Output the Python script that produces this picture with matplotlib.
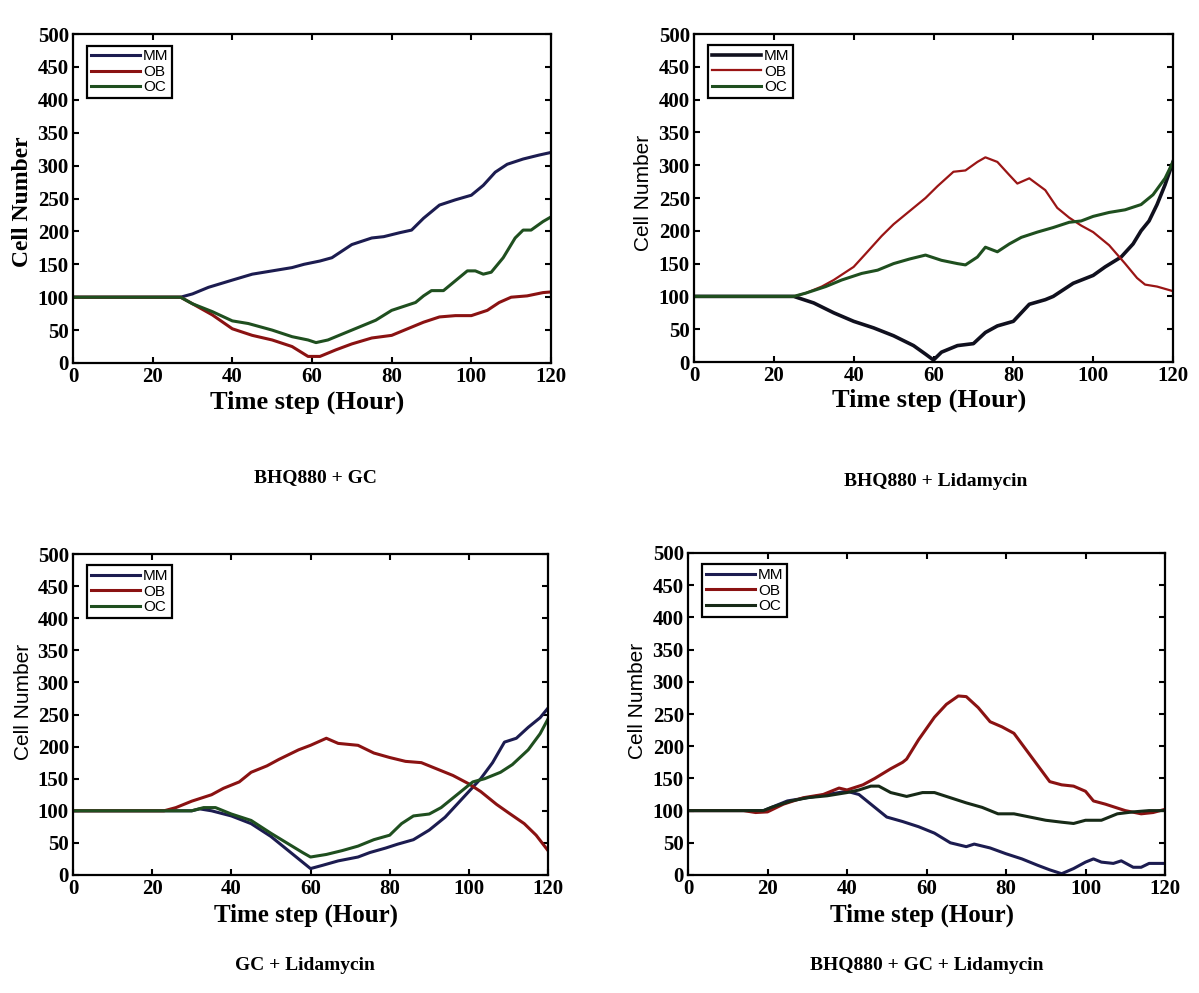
#libraries
import matplotlib
matplotlib.use("Agg")
import matplotlib.pyplot as plt

#hours and cell counts
# panel 1 : BHQ880 + GC
p1_mm_t = [0, 27, 30, 34, 40, 45, 50, 55, 58, 62, 65, 70, 75, 78, 82, 85, 88, 92, 96, 100, 103, 106, 109, 113, 117, 120]
p1_mm_v = [100, 100, 105, 115, 126, 135, 140, 145, 150, 155, 160, 180, 190, 192, 198, 202, 220, 240, 248, 255, 270, 290, 302, 310, 316, 320]
p1_ob_t = [0, 27, 30, 35, 40, 45, 50, 55, 59, 62, 66, 70, 75, 80, 84, 88, 92, 96, 100, 104, 107, 110, 114, 118, 120]
p1_ob_v = [100, 100, 90, 73, 52, 42, 35, 25, 10, 10, 20, 29, 38, 42, 52, 62, 70, 72, 72, 80, 92, 100, 102, 107, 108]
p1_oc_t = [0, 27, 30, 35, 40, 44, 50, 55, 59, 61, 64, 68, 72, 76, 80, 84, 86, 88, 90, 93, 96, 99, 101, 103, 105, 108, 111, 113, 115, 118, 120]
p1_oc_v = [100, 100, 90, 78, 64, 60, 50, 40, 35, 31, 35, 45, 55, 65, 80, 88, 92, 102, 110, 110, 125, 140, 140, 135, 138, 160, 190, 202, 202, 215, 222]

# panel 2 : BHQ880 + Lidamycin
p2_mm_t = [0, 25, 30, 35, 40, 45, 50, 55, 58, 60, 62, 66, 70, 73, 76, 80, 84, 88, 90, 95, 100, 103, 107, 110, 112, 114, 116, 118, 120]
p2_mm_v = [100, 100, 90, 75, 62, 52, 40, 25, 12, 3, 15, 25, 28, 45, 55, 62, 88, 95, 100, 120, 132, 145, 160, 180, 200, 215, 240, 270, 305]
p2_ob_t = [0, 25, 28, 32, 35, 40, 43, 47, 50, 54, 58, 61, 65, 68, 71, 73, 76, 79, 81, 84, 88, 91, 94, 97, 100, 104, 108, 111, 113, 116, 120]
p2_ob_v = [100, 100, 105, 115, 125, 145, 165, 192, 210, 230, 250, 268, 290, 292, 305, 312, 305, 285, 272, 280, 262, 235, 220, 208, 198, 178, 150, 128, 118, 115, 108]
p2_oc_t = [0, 25, 28, 33, 37, 42, 46, 50, 54, 58, 62, 66, 68, 71, 73, 76, 79, 82, 86, 90, 94, 97, 100, 104, 108, 112, 115, 118, 120]
p2_oc_v = [100, 100, 105, 115, 125, 135, 140, 150, 157, 163, 155, 150, 148, 160, 175, 168, 180, 190, 198, 205, 213, 215, 222, 228, 232, 240, 255, 280, 305]

# panel 3 : GC + Lidamycin
p3_mm_t = [0, 30, 32, 35, 40, 45, 50, 54, 58, 60, 63, 67, 72, 75, 79, 82, 86, 90, 94, 97, 100, 103, 106, 109, 112, 115, 118, 120]
p3_mm_v = [100, 100, 103, 100, 92, 80, 60, 40, 20, 10, 15, 22, 28, 35, 42, 48, 55, 70, 90, 110, 130, 150, 175, 207, 213, 230, 245, 260]
p3_ob_t = [0, 23, 26, 30, 35, 38, 42, 45, 49, 52, 57, 60, 64, 67, 72, 76, 80, 84, 88, 92, 96, 100, 103, 107, 110, 114, 117, 120]
p3_ob_v = [100, 100, 105, 115, 125, 135, 145, 160, 170, 180, 195, 202, 213, 205, 202, 190, 183, 177, 175, 165, 155, 142, 130, 110, 97, 80, 62, 38]
p3_oc_t = [0, 30, 33, 36, 40, 45, 50, 54, 58, 60, 64, 68, 72, 76, 80, 83, 86, 90, 93, 96, 99, 101, 104, 108, 111, 115, 118, 120]
p3_oc_v = [100, 100, 105, 105, 95, 85, 65, 50, 35, 28, 32, 38, 45, 55, 62, 80, 92, 95, 105, 120, 135, 145, 150, 160, 172, 195, 220, 243]

# panel 4 : BHQ880 + GC + Lidamycin
p4_mm_t = [0, 19, 21, 25, 30, 35, 40, 43, 46, 50, 54, 58, 62, 66, 70, 72, 76, 80, 84, 88, 91, 94, 97, 100, 102, 104, 107, 109, 112, 114, 116, 120]
p4_mm_v = [100, 100, 105, 115, 120, 125, 130, 125, 110, 90, 83, 75, 65, 50, 44, 48, 42, 33, 25, 15, 8, 2, 10, 20, 25, 20, 18, 22, 12, 12, 18, 18]
p4_ob_t = [0, 14, 17, 20, 24, 29, 34, 38, 40, 44, 47, 51, 54, 55, 58, 62, 65, 68, 70, 73, 76, 79, 82, 85, 88, 91, 94, 97, 100, 102, 105, 110, 114, 117, 120]
p4_ob_v = [100, 100, 97, 98, 110, 120, 125, 135, 132, 140, 150, 165, 175, 180, 210, 245, 265, 278, 277, 260, 238, 230, 220, 195, 170, 145, 140, 138, 130, 115, 110, 100, 95, 97, 102]
p4_oc_t = [0, 19, 21, 26, 30, 35, 40, 43, 46, 48, 51, 55, 59, 62, 66, 70, 74, 78, 82, 86, 90, 94, 97, 100, 104, 108, 112, 116, 120]
p4_oc_v = [100, 100, 105, 115, 120, 123, 128, 132, 138, 138, 128, 122, 128, 128, 120, 112, 105, 95, 95, 90, 85, 82, 80, 85, 85, 95, 98, 100, 100]

labels = ["MM", "OB", "OC"]
captions = ["BHQ880 + GC", "BHQ880 + Lidamycin", "GC + Lidamycin", "BHQ880 + GC + Lidamycin"]

#fonts
serif = "Liberation Serif"
sans = "Liberation Sans"

W, H = 1199, 993
fig = plt.figure(figsize=(W / 100, H / 100), dpi=100)
fig.patch.set_facecolor("white")

def px_axes(left, right, top, bottom):
    # axes from pixel edges
    return fig.add_axes([left / W, (H - bottom) / H, (right - left) / W, (bottom - top) / H])

def panel(ax, series, colors, widths, ylab_serif, ylab_y, xlab_y, xlab_size):
    for (t, v), col, lw, lab in zip(series, colors, widths, labels):
        ax.plot(t, v, color=col, linewidth=lw, label=lab)

    ax.set_xlim(0, 120)
    ax.set_ylim(0, 500)
    ax.set_xticks(range(0, 121, 20))
    ax.set_yticks(range(0, 501, 50))
    ax.tick_params(direction="in", length=4, width=1.5, top=True, right=True, pad=3)
    for lab in ax.get_xticklabels() + ax.get_yticklabels():
        lab.set_fontfamily(serif)
        lab.set_fontweight("bold")
        lab.set_fontsize(15)
    for s in ax.spines.values():
        s.set_linewidth(1.6)

    if ylab_serif:
        ax.set_ylabel("Cell Number", fontfamily=serif, fontweight="bold", fontsize=17)
    else:
        ax.set_ylabel("Cell Number", fontfamily=sans, fontsize=15)
    ax.yaxis.set_label_coords(-0.105, ylab_y)
    ax.yaxis.label.set_va("center")

    ax.set_xlabel("Time step (Hour)", fontfamily=serif, fontweight="bold", fontsize=xlab_size)
    ax.xaxis.set_label_coords(0.49, xlab_y)
    ax.xaxis.label.set_va("center")

    leg = ax.legend(loc="upper left", bbox_to_anchor=(0.03, 0.965), prop={"family": sans, "size": 11},
                    handlelength=3.2, handletextpad=0.2, borderpad=0.25, labelspacing=0.1,
                    fancybox=False, framealpha=1, borderaxespad=0)
    leg.get_frame().set_edgecolor("black")
    leg.get_frame().set_linewidth(1.6)

navy = "#1c1c50"
red = "#8a1212"
green = "#1f4f1f"

ax1 = px_axes(73, 551, 34, 363)
panel(ax1, [(p1_mm_t, p1_mm_v), (p1_ob_t, p1_ob_v), (p1_oc_t, p1_oc_v)],
      [navy, red, green], [2.2, 2.2, 2.2], True, 0.49, -0.118, 19)

ax2 = px_axes(694, 1173, 34, 362)
panel(ax2, [(p2_mm_t, p2_mm_v), (p2_ob_t, p2_ob_v), (p2_oc_t, p2_oc_v)],
      ["#10101e", "#9a1515", green], [2.6, 1.6, 2.2], False, 0.515, -0.118, 19)

ax3 = px_axes(73, 548, 554, 875)
panel(ax3, [(p3_mm_t, p3_mm_v), (p3_ob_t, p3_ob_v), (p3_oc_t, p3_oc_v)],
      [navy, red, green], [2.2, 2.2, 2.2], False, 0.54, -0.125, 18)

ax4 = px_axes(688, 1165, 553, 875)
panel(ax4, [(p4_mm_t, p4_mm_v), (p4_ob_t, p4_ob_v), (p4_oc_t, p4_oc_v)],
      [navy, red, "#172a17"], [2.2, 2.2, 2.2], False, 0.54, -0.125, 18)

#captions under each panel
cap_pos = [(315, 478), (936, 481), (305, 966), (927, 966)]
for txt, (cx, cy) in zip(captions, cap_pos):
    fig.text(cx / W, 1 - cy / H, txt, ha="center", va="center",
             fontfamily=serif, fontweight="bold", fontsize=14)

fig.savefig("out.png", dpi=100, facecolor="white")
